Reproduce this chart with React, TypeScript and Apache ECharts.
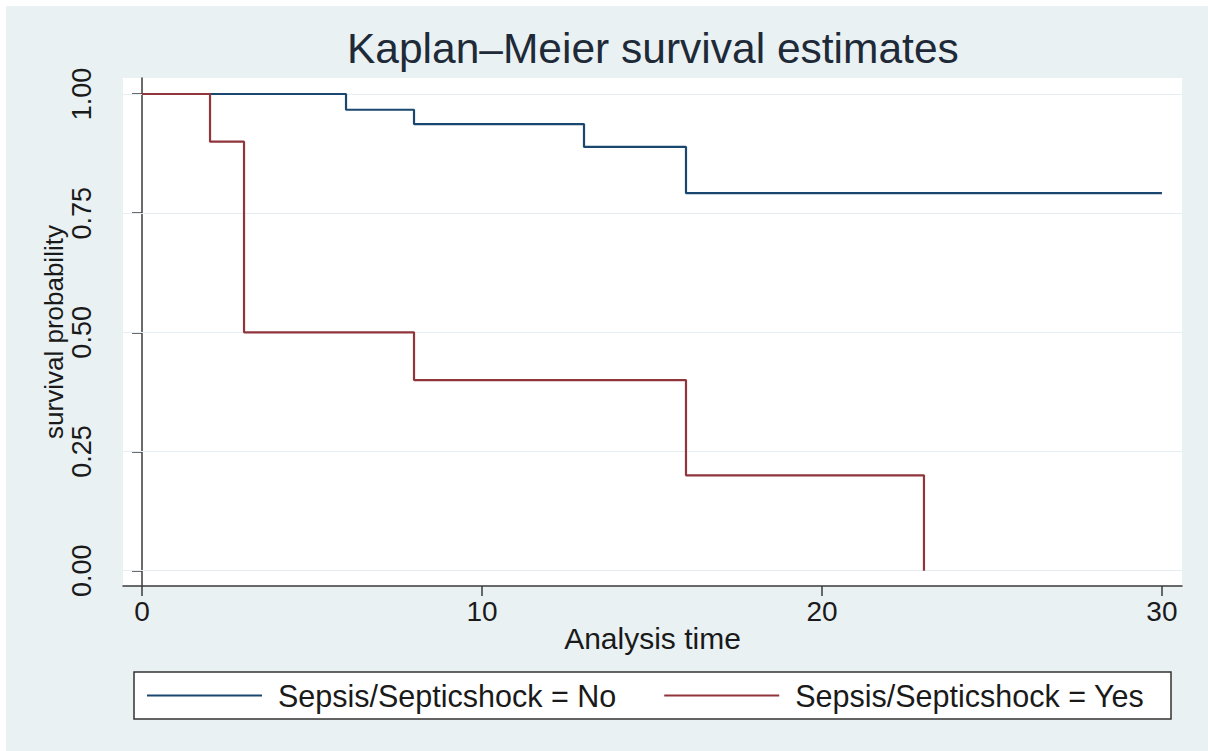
import React, { useEffect, useRef } from "react";
import * as echarts from "echarts";

const titleText = "Kaplan–Meier survival estimates";
const xName = "Analysis time";
const yName = "survival probability";
const seriesNames = ["Sepsis/Septicshock = No", "Sepsis/Septicshock = Yes"];
const xTicks = [0, 10, 20, 30];
const yTicks = [0, 0.25, 0.5, 0.75, 1];
const timeNo = [0, 6, 8, 13, 16, 30];
const survNo = [1, 0.967, 0.937, 0.889, 0.792, 0.792];
const timeYes = [0, 2, 3, 8, 16, 23];
const survYes = [1, 0.9, 0.5, 0.4, 0.2, 0];

const FONT = "'Liberation Sans', Arial, Helvetica, sans-serif";
const AXIS_COLOR = "#3a3a3a";
const TEXT_COLOR = "#1a1a1a";

export default function App() {
  const ref = useRef<HTMLDivElement>(null);
  useEffect(() => {
    if (!ref.current) return;
    const chart = echarts.init(ref.current, undefined, { renderer: "svg" });
    const pts = (xs: number[], ys: number[]) => xs.map((x, i) => [x, ys[i]]);
    chart.setOption({
      animation: false,
      backgroundColor: "transparent",
      textStyle: { fontFamily: FONT },
      title: {
        text: titleText,
        left: 347,
        top: 27,
        padding: 0,
        textStyle: { fontFamily: FONT, fontSize: 42.5, fontWeight: "normal", color: "#1e2a38", lineHeight: 42 },
      },
      grid: {
        left: 123,
        top: 78,
        width: 1059,
        height: 508,
        show: true,
        backgroundColor: "#ffffff",
        borderWidth: 0,
      },
      xAxis: {
        type: "value",
        min: -0.56,
        max: 30.59,
        name: xName,
        nameLocation: "middle",
        nameGap: 37,
        nameMoveOverlap: false,
        nameTextStyle: { fontFamily: FONT, fontSize: 30, color: TEXT_COLOR, lineHeight: 30 },
        axisLine: { show: true, onZero: false, lineStyle: { color: AXIS_COLOR, width: 1.5 } },
        axisTick: { show: true, length: 10, customValues: xTicks, lineStyle: { color: AXIS_COLOR, width: 1.5 } },
        axisLabel: {
          customValues: xTicks,
          fontFamily: FONT,
          fontSize: 28,
          lineHeight: 28,
          color: TEXT_COLOR,
          margin: 11,
        },
        splitLine: { show: false },
      },
      yAxis: {
        type: "value",
        min: -0.0321,
        max: 1.0336,
        name: yName,
        nameLocation: "middle",
        nameGap: 56,
        nameRotate: 90,
        nameMoveOverlap: false,
        nameTextStyle: { fontFamily: FONT, fontSize: 26, color: TEXT_COLOR, lineHeight: 26 },
        axisLine: { show: true, lineStyle: { color: AXIS_COLOR, width: 1.5 } },
        axisTick: { show: true, length: 10, customValues: yTicks, lineStyle: { color: AXIS_COLOR, width: 1.5 } },
        axisLabel: {
          customValues: yTicks,
          rotate: 90,
          fontFamily: FONT,
          fontSize: 27,
          lineHeight: 27,
          color: TEXT_COLOR,
          margin: 28,
          formatter: (v: number) => v.toFixed(2),
        },
        splitLine: { show: false },
      },
      legend: {
        data: seriesNames,
        icon: "rect",
        left: 147,
        top: 680,
        padding: 0,
        itemGap: 48,
        itemWidth: 115,
        itemHeight: 2,
        z: 5,
        textStyle: { fontFamily: FONT, fontSize: 30.5, color: TEXT_COLOR, padding: [0, 0, 0, 11] },
      },
      graphic: [
        {
          type: "rect",
          z: 1,
          shape: { x: 134, y: 672, width: 1037, height: 47 },
          style: { fill: "#ffffff", stroke: "#333333", lineWidth: 1.5 },
        },
      ],
      series: [
        {
          name: "grid",
          type: "line",
          data: [],
          z: 1,
          silent: true,
          markLine: {
            z: 1,
            silent: true,
            symbol: "none",
            label: { show: false },
            lineStyle: { color: "#e6eef1", width: 1.2, type: "solid" },
            data: yTicks.map((v) => ({ yAxis: v })),
          },
        },
        {
          name: seriesNames[0],
          type: "line",
          step: "end",
          symbol: "none",
          z: 3,
          data: pts(timeNo, survNo),
          lineStyle: { color: "#1a476f", width: 2.2 },
          itemStyle: { color: "#1a476f" },
        },
        {
          name: seriesNames[1],
          type: "line",
          step: "end",
          symbol: "none",
          z: 4,
          data: pts(timeYes, survYes),
          lineStyle: { color: "#90353b", width: 2.2 },
          itemStyle: { color: "#90353b" },
        },
      ],
    });
    return () => chart.dispose();
  }, []);
  return (
    <div style={{ position: "fixed", left: 0, top: 0, width: 1208, height: 751, background: "#ffffff" }}>
      <div style={{ position: "absolute", left: 6, top: 6, right: 0, bottom: 0, background: "#e9f1f3" }} />
      <div ref={ref} style={{ position: "absolute", left: 0, top: 0, width: 1208, height: 751 }} />
    </div>
  );
}
